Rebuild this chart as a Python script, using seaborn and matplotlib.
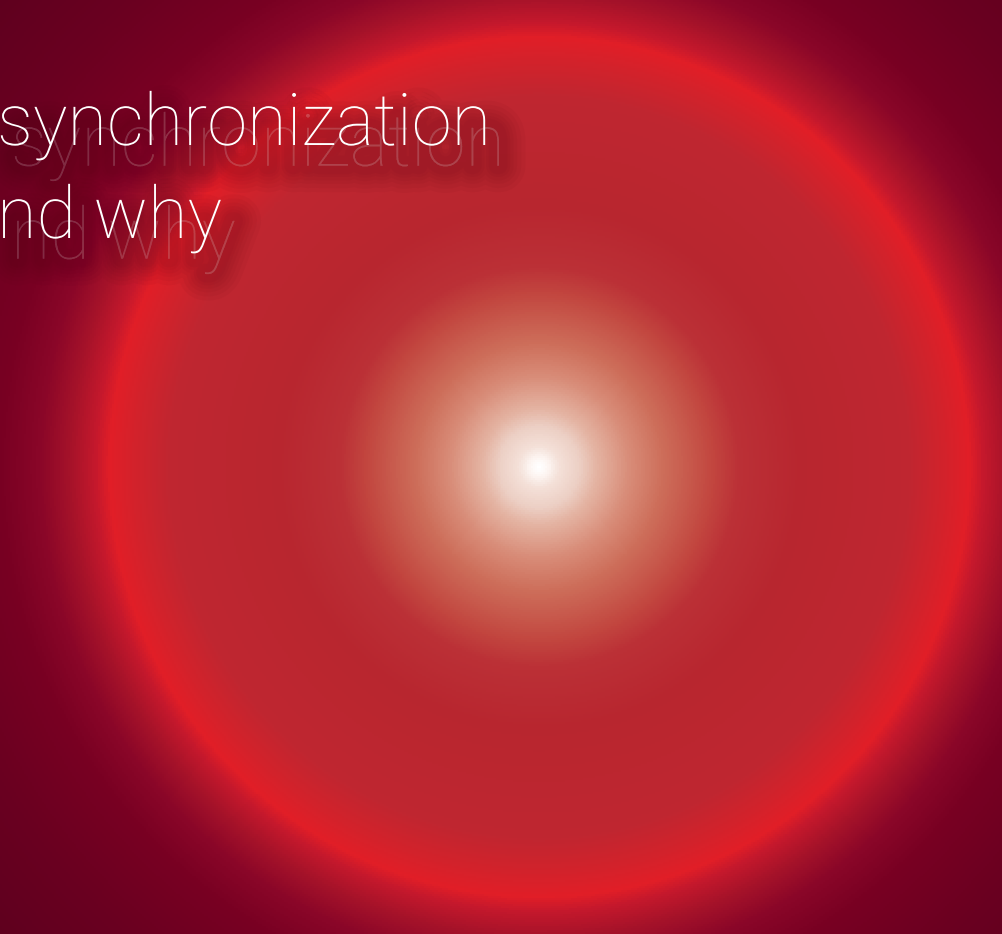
import numpy as np
import pandas as pd
import matplotlib
matplotlib.use("Agg")
import matplotlib.pyplot as plt
import matplotlib.patheffects as pe
import seaborn as sns
from matplotlib.colors import LinearSegmentedColormap

# radial glow profile: distance from centre (px) -> colour
radius_stops = [0, 8, 20, 40, 57, 90, 123, 173, 200, 260, 370, 405, 430, 445, 470, 500,
                540, 620, 720]
radius_colors = ["#ffffff", "#fdf6f3", "#f4e0d8", "#eccfc4", "#e4b4a3", "#d88c78", "#cd6e5a",
                 "#c2463f", "#bb3036", "#b8262f", "#bf2630", "#d2222b", "#e11e27", "#c4182c",
                 "#a51229", "#8a0628", "#780022", "#6a0020", "#5e001e"]
glow_center = (540, 467)

title_lines = ["synchronization", "nd why"]
title_pos = [(-3, 145), (-3, 238)]  # px, baseline

W, H, step = 1003, 934, 2
xs = np.arange(0, W, step) + step / 2
ys = np.arange(0, H, step) + step / 2
gx, gy = np.meshgrid(xs, ys)
dist = np.hypot(gx - glow_center[0], gy - glow_center[1])
df = pd.DataFrame(dist)

rmax = radius_stops[-1]
cmap = LinearSegmentedColormap.from_list(
    "glow", [(r / rmax, c) for r, c in zip(radius_stops, radius_colors)], N=512)

fig = plt.figure(figsize=(W / 100, H / 100), dpi=100)
ax = fig.add_axes([0, 0, 1, 1])
sns.heatmap(df, cmap=cmap, vmin=0, vmax=rmax, cbar=False,
            xticklabels=False, yticklabels=False, ax=ax, rasterized=True)
ax.set_axis_off()

# blurred drop shadow built from stacked translucent strokes
shadow = [pe.Stroke(offset=(10, -15), linewidth=lw, foreground="#45000f", alpha=0.04)
          for lw in (38, 32, 26, 21, 16, 12)]
for (tx, ty), line in zip(title_pos, title_lines):
    ax.text(tx / step, ty / step, line, fontsize=52, family="Roboto", weight="light",
            color="white", ha="left", va="baseline",
            path_effects=shadow + [pe.Normal()])

fig.savefig("out.png", dpi=100)
